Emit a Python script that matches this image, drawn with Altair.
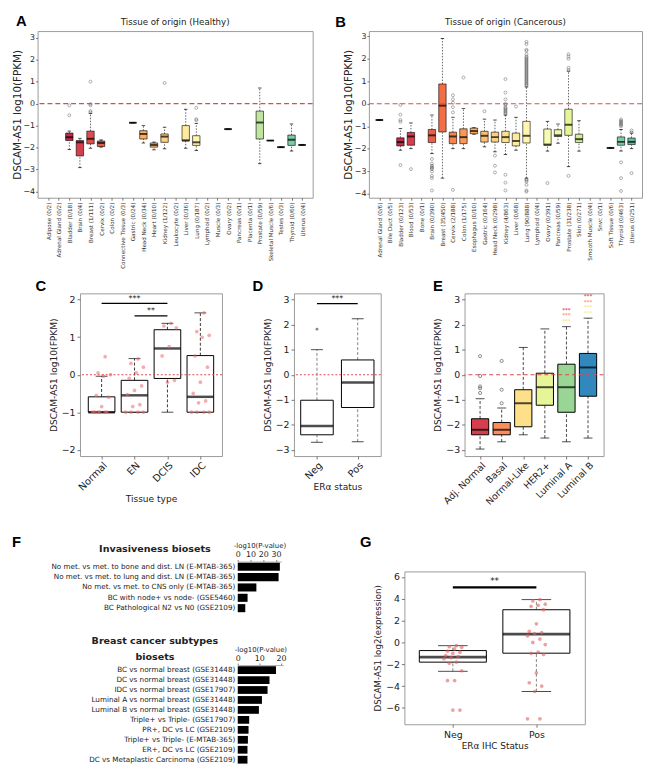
import altair as alt
import pandas as pd

FONT = "DejaVu Sans"
LETTER_FONT = "Liberation Sans"
N = None
ZERO = [0]

# ---------------- Panel A : healthy tissues ----------------
A_CATS = ["Adipose (0/2)", "Adrenal Gland (0/2)", "Bladder (0/18)", "Brain (0/4)",
          "Breast (1/111)", "Cervix (0/2)", "Colon (0/2)", "Connective Tissue (0/3)",
          "Gastric (0/24)", "Head Neck (0/34)", "Heart (0/10)", "Kidney (1/122)",
          "Leukocyte (0/2)", "Liver (0/36)", "Lung (0/187)", "Lymphoid (0/2)",
          "Muscle (0/3)", "Ovary (0/2)", "Pancreas (0/1)", "Placenta (0/1)",
          "Prostate (0/59)", "Skeletal Muscle (0/6)", "Testes (0/3)", "Thyroid (0/60)",
          "Uterus (0/4)"]
A_LO = [N, N, -2.09, -2.91, -2.03, -1.98, N, N, -0.87, -1.79, -2.10, -2.05, N,
        -2.03, -2.13, N, N, -1.16, N, N, -2.73, -1.68, -1.98, -2.16, -1.88]
A_Q1 = [N, N, -1.68, -2.38, -1.83, -1.95, N, N, -0.87, -1.61, -1.98, -1.76, N,
        -1.70, -1.90, N, N, -1.16, N, N, -1.61, -1.68, -1.98, -1.90, -1.88]
A_MED = [N, N, -1.53, -1.76, -1.60, -1.79, N, N, -0.87, -1.38, -1.88, -1.50, N,
         -1.67, -1.76, N, N, -1.16, N, N, -0.86, -1.68, -1.98, -1.64, -1.88]
A_Q3 = [N, N, -1.34, -1.68, -1.25, -1.70, N, N, -0.87, -1.23, -1.79, -1.38, N,
        -1.00, -1.46, N, N, -1.16, N, N, -0.34, -1.68, -1.98, -1.43, -1.88]
A_HI = [N, N, -1.25, -1.58, -0.45, -1.65, N, N, -0.87, -1.00, -1.75, -1.08, N,
        -0.26, -0.90, N, N, -1.16, N, N, 0.71, -1.68, -1.98, -0.93, -1.88]
A_OUT_CAT = (["Bladder (0/18)"] * 2 + ["Breast (1/111)"] * 5 + ["Kidney (1/122)"]
             + ["Lung (0/187)"] * 3)
A_OUT_VAL = [-0.08, -0.53, 1.0, -0.02, -0.08, -0.34, -0.40, 0.94, -0.19, -0.71, -0.76]

# ---------------- Panel B : cancerous tissues ----------------
B_CATS = ["Adrenal Gland (0/6)", "Bile Duct (0/5)", "Bladder (0/123)", "Blood (0/53)",
          "Bone (0/1)", "Brain (0/390)", "Breast (35/450)", "Cervix (2/188)",
          "Colon (1/175)", "Esophagus (0/10)", "Gastric (0/164)", "Head Neck (0/298)",
          "Kidney (4/863)", "Liver (0/68)", "Lung (90/888)", "Lymphoid (0/4)",
          "Ovary (0/391)", "Pancreas (0/59)", "Prostate (31/238)", "Skin (0/271)",
          "Smooth Muscle (0/4)", "Snvc (0/1)", "Soft Tissue (0/6)", "Thyroid (0/463)",
          "Uterus (0/251)"]
B_LO = [-0.72, N, -2.06, -1.99, N, -2.21, -3.30, -1.99, -1.99, -1.35, -1.91, -2.13,
        -2.25, -2.06, -3.30, N, -2.10, -1.75, -2.79, -2.10, N, N, -1.96, -2.10, -1.99]
B_Q1 = [-0.72, N, -1.87, -1.84, N, -1.72, -1.25, -1.77, -1.77, -1.33, -1.70, -1.70,
        -1.72, -1.87, -1.74, N, -1.84, -1.45, -1.40, -1.72, N, N, -1.96, -1.84, -1.81]
B_MED = [-0.72, N, -1.70, -1.45, N, -1.40, -0.08, -1.45, -1.48, -1.21, -1.42, -1.48,
         -1.48, -1.65, -1.42, N, -1.81, -1.40, -0.93, -1.57, N, N, -1.96, -1.69, -1.69]
B_Q3 = [-0.72, N, -1.51, -1.27, N, -1.14, 0.88, -1.26, -1.11, -1.08, -1.22, -1.26,
        -1.22, -1.30, -0.78, N, -1.12, -1.15, -0.24, -1.35, N, N, -1.96, -1.47, -1.52]
B_HI = [-0.72, N, -1.10, -0.85, N, -0.50, 2.90, -0.60, -0.21, -1.06, -0.68, -0.72,
        -0.50, -0.60, 0.75, N, -0.78, -0.90, 1.45, -0.75, N, N, -1.96, -1.14, -1.30]
B_OUT_CAT = (["Bladder (0/123)"] * 5 + ["Blood (0/53)"] + ["Brain (0/390)"] * 10
             + ["Cervix (2/188)"] * 6 + ["Colon (1/175)"] + ["Gastric (0/164)"]
             + ["Head Neck (0/298)"] * 3 + ["Kidney (4/863)"] * 15 + ["Liver (0/68)"]
             + ["Lung (90/888)"] * 38 + ["Ovary (0/391)"] + ["Prostate (31/238)"] * 6
             + ["Thyroid (0/463)"] * 10 + ["Uterus (0/251)"] * 3)
B_OUT_VAL = ([-0.05, -0.48, -0.72, -0.80, -2.72] + [-2.90]
             + [-2.45, -2.65, -2.75, -2.80, -2.85, -2.90, -3.00, -3.20, -3.30, -3.85]
             + [0.38, 0.20, 0.05, -0.15, -0.38, -3.82] + [1.17] + [-0.33]
             + [-2.30, -2.75, -3.05]
             + [1.10, 0.50, 0.20, 0.00, -0.05, -0.15, -0.20, -0.25, -0.30, -0.35, -0.40,
                -0.45, -3.15, -3.50, -3.85]
             + [-0.12]
             + [0.80, 0.85, 0.90, 0.95, 1.00, 1.05, 1.10, 1.15, 1.20, 1.25, 1.30, 1.35,
                1.40, 1.45, 1.50, 1.55, 1.60, 1.65, 1.70, 1.75, 1.80, 1.85, 1.90, 1.95,
                2.00, 2.05, 2.10, 2.20, 2.35, 2.40, 2.65, 2.75, -3.35, -3.40, -3.45,
                -3.60, -3.85, -3.90]
             + [-3.52]
             + [2.20, 2.10, 2.00, 1.60, 1.50, -3.20]
             + [-0.70, -0.75, -0.80, -0.85, -0.90, -0.95, -1.00, -2.60, -3.30, -3.87]
             + [-1.18, -1.27, -3.08])

# ---------------- Panel C ----------------
C_CATS = ["Normal", "EN", "DCIS", "IDC"]
C_LO = [-1.0, -1.0, -1.0, -1.0]
C_Q1 = [-1.0, -1.0, -0.10, -1.0]
C_MED = [-1.0, -0.55, 0.70, -0.59]
C_Q3 = [-0.59, -0.15, 1.20, 0.51]
C_HI = [-0.04, 0.43, 1.37, 1.65]
C_PT_CAT = ["Normal"] * 13 + ["EN"] * 14 + ["DCIS"] * 7 + ["IDC"] * 14
C_PT_VAL = ([0.48, 0.05, 0.0, -0.04, -0.55, -0.60, -0.85, -1.0, -1.0, -1.0, -1.0, -1.0, -1.0]
            + [0.42, 0.30, 0.20, 0.05, -0.10, -0.30, -0.42, -0.53, -0.80, -0.85, -1.0, -1.0, -1.0, -1.0]
            + [1.37, 1.30, 1.25, 0.75, 0.50, -0.15, -0.20]
            + [1.65, 1.15, 1.05, 1.00, 0.50, 0.20, -0.20, -0.50, -0.70, -0.75, -1.0, -1.0, -1.0, -1.0])
C_SIG_FROM = ["Normal", "EN"]
C_SIG_TO = ["DCIS", "DCIS"]
C_SIG_Y = [1.90, 1.57]
C_SIG_TXT = ["***", "**"]

# ---------------- Panel D ----------------
D_CATS = ["Neg", "Pos"]
D_LO = [-2.70, -2.68]
D_Q1 = [-2.40, -1.31]
D_MED = [-2.05, -0.31]
D_Q3 = [-1.02, 0.59]
D_HI = [1.00, 2.24]
D_OUT_CAT = ["Neg"]
D_OUT_VAL = [1.82]
D_SIG_FROM = ["Neg"]
D_SIG_TO = ["Pos"]
D_SIG_Y = [2.84]
D_SIG_TXT = ["***"]

# ---------------- Panel E ----------------
E_CATS = ["Adj. Normal", "Basal", "Normal-Like", "HER2+", "Luminal A", "Luminal B"]
E_COLORS = ["#d53e4f", "#fc8d59", "#fee08b", "#e6f598", "#99d594", "#3288bd"]
E_LO = [-2.97, -2.68, -2.40, -2.53, -2.68, -2.53]
E_Q1 = [-2.40, -2.40, -2.08, -1.22, -1.50, -0.86]
E_MED = [-2.20, -2.20, -1.14, -0.50, -0.50, 0.29]
E_Q3 = [-1.76, -1.91, -0.60, 0.06, 0.42, 0.85]
E_HI = [-0.96, -1.33, 1.09, 1.83, 1.92, 2.26]
E_OUT_CAT = ["Adj. Normal"] * 5 + ["Basal"] * 3
E_OUT_VAL = [0.74, -0.05, -0.47, -0.54, -0.73, 0.55, -0.60, -1.14]
E_STAR_CAT = ["Luminal A"] * 3 + ["Luminal B"] * 4
E_STAR_Y = [2.59, 2.37, 2.15, 3.15, 2.92, 2.70, 2.48]
E_STAR_VS = ["Adj. Normal", "Basal", "Normal-Like", "Adj. Normal", "Basal", "Normal-Like", "HER2+"]

# ---------------- Panel F ----------------
F1_LABELS = ["No met. vs met. to bone and dist. LN (E-MTAB-365)",
             "No met. vs met. to lung and dist. LN (E-MTAB-365)",
             "No met. vs met. to CNS only (E-MTAB-365)",
             "BC with node+ vs node- (GSE5460)",
             "BC Pathological N2 vs N0 (GSE2109)"]
F1_VALS = [33.0, 32.0, 14.6, 7.7, 5.9]
F2_LABELS = ["BC vs normal breast (GSE31448)",
             "DC vs normal breast (GSE31448)",
             "IDC vs normal breast (GSE17907)",
             "Luminal A  vs normal breast (GSE31448)",
             "Luminal B  vs normal breast  (GSE31448)",
             "Triple+ vs Triple- (GSE17907)",
             "PR+, DC vs LC (GSE2109)",
             "Triple+ vs Triple- (E-MTAB-365)",
             "ER+, DC vs LC (GSE2109)",
             "DC vs Metaplastic Carcinoma (GSE2109)"]
F2_VALS = [17.7, 14.7, 13.8, 11.2, 9.8, 5.3, 5.0, 4.7, 4.5, 4.5]
F1_HEADER = ["Invasiveness biosets"]
F2_HEADER = ["Breast cancer subtypes", "biosets"]

# ---------------- Panel G ----------------
G_CATS = ["Neg", "Pos"]
G_LO = [-2.65, -4.50]
G_Q1 = [-1.81, -0.99]
G_MED = [-1.36, 0.75]
G_Q3 = [-0.75, 2.99]
G_HI = [-0.30, 3.92]
G_PT_CAT = ["Neg"] * 18 + ["Pos"] * 23
G_PT_VAL = ([-0.30, -0.40, -0.45, -0.60, -0.80, -0.90, -1.00, -1.20, -1.30, -1.40, -1.50,
             -1.80, -1.90, -2.60, -3.50, -3.50, -6.20, -6.20]
            + [3.92, 3.80, 3.50, 3.40, 3.30, 3.00, 1.70, 1.00, 0.90, 0.80, 0.60, 0.30,
               0.00, -0.20, -0.90, -1.00, -1.10, -2.80, -3.70, -4.00, -4.50, -7.00, -7.00])
G_SIG_FROM = ["Neg"]
G_SIG_TO = ["Pos"]
G_SIG_Y = [5.04]
G_SIG_TXT = ["**"]

# ---------------- palette (Spectral, first 80 %) for tissues ----------------
SPECTRAL = ["#9e0142", "#d53e4f", "#f46d43", "#fdae61", "#fee08b", "#ffffbf",
            "#e6f598", "#abdda4", "#66c2a5", "#3288bd", "#5e4fa2"]


def spectral(t):
    pos = t * 10
    i = min(int(pos), 9)
    f = pos - i
    a = [int(SPECTRAL[i][k:k + 2], 16) for k in (1, 3, 5)]
    b = [int(SPECTRAL[i + 1][k:k + 2], 16) for k in (1, 3, 5)]
    return "#" + "".join(f"{round(a[k] + (b[k] - a[k]) * f):02x}" for k in range(3))


TISSUE_COLORS = [spectral(0.8 * i / 24) for i in range(25)]


# ================= helpers =================
def ind(c):
    return c.resolve_scale(fill="independent", color="independent")


def hc(*charts, spacing):
    return ind(alt.hconcat(*charts, spacing=spacing))


def vc(*charts, spacing):
    return ind(alt.vconcat(*charts, spacing=spacing))


def spacer(w, h):
    return (alt.Chart(pd.DataFrame({"s": [0]}))
            .mark_point(size=1, opacity=0)
            .encode(x=alt.value(0), y=alt.value(0))
            .properties(width=w, height=h,
                        view=alt.ViewBackground(stroke="transparent")))


def text_layer(txt, x, y, size, weight="normal", align="center", baseline="middle",
               font=FONT, color="#222"):
    return (alt.Chart(pd.DataFrame({"t": [txt]}))
            .mark_text(font=font, fontSize=size, fontWeight=weight, align=align,
                       baseline=baseline, color=color)
            .encode(text="t:N", x=alt.value(x), y=alt.value(y)))


def letter(txt, x, y):
    return text_layer(txt, x, y, 15, "bold", "left", "top", LETTER_FONT, "black")


def box_panel(cats, lo, q1, med, q3, hi, *, width, xpad, ydom, yvals, ytitle, xaxis,
              ysize, box_w, cap_w, med_t, fill=None, wdash=(3, 2), wcolor="#444",
              box_sw=1.0, ylabsize=9.5, tick=3, lpad=2, tpad=3):
    xs = alt.Scale(type="point", domain=cats, padding=xpad)
    ys = alt.Scale(domain=ydom, nice=False, zero=False)
    yaxis = alt.Axis(title=ytitle, values=yvals, labelFontSize=ylabsize,
                     titleFontSize=ysize, tickSize=tick, labelPadding=lpad,
                     titlePadding=tpad)

    def X(f="cat"):
        return alt.X(f"{f}:N", scale=xs, axis=xaxis, sort=None)

    def Y(f):
        return alt.Y(f"{f}:Q", scale=ys, axis=yaxis)

    df = pd.DataFrame(dict(cat=cats, lo=lo, q1=q1, med=med, q3=q3, hi=hi)).dropna()
    base = alt.Chart(df)
    rule = dict(strokeDash=list(wdash), color=wcolor, strokeWidth=0.9)
    layers = [
        base.mark_rule(**rule).encode(x=X(), y=Y("q3"), y2="hi:Q"),
        base.mark_rule(**rule).encode(x=X(), y=Y("lo"), y2="q1:Q"),
        base.mark_tick(size=cap_w, thickness=1, color="black").encode(x=X(), y=Y("hi")),
        base.mark_tick(size=cap_w, thickness=1, color="black").encode(x=X(), y=Y("lo")),
    ]
    if fill is None:
        layers.append(base.mark_bar(width=box_w, fill="white", stroke="black",
                                    strokeWidth=box_sw)
                      .encode(x=X(), y=Y("q1"), y2="q3:Q"))
    else:
        layers.append(base.mark_bar(width=box_w, stroke="black", strokeWidth=box_sw,
                                    opacity=1)
                      .encode(x=X(), y=Y("q1"), y2="q3:Q", fill=fill))
    layers.append(base.mark_tick(size=box_w, thickness=med_t, color="black")
                  .encode(x=X(), y=Y("med")))
    step = width / (len(cats) - 1 + 2 * xpad)
    return layers, X, Y, step


def zero_rule(Y, dash):
    return (alt.Chart(pd.DataFrame({"z": ZERO}))
            .mark_rule(color="#dd4b4b", strokeDash=dash, strokeWidth=1.1)
            .encode(y=Y("z")))


def sig_layers(X, Y, cats, step, frm, to, ys, txts, width=1.3, size=8):
    out = []
    df = pd.DataFrame(dict(frm=frm, to=to, y=ys, txt=txts))
    out.append(alt.Chart(df).mark_rule(color="black", strokeWidth=width)
               .encode(x=X("frm"), x2=alt.X2("to:N"), y=Y("y")))
    for i in range(len(frm)):
        dx = (cats.index(to[i]) - cats.index(frm[i])) / 2 * step
        out.append(alt.Chart(df.iloc[[i]]).mark_text(dx=dx, dy=-1, baseline="bottom",
                                                     fontSize=size, color="#222")
                   .encode(x=X("frm"), y=Y("y"), text="txt:N"))
    return out


def jitter_points(X, Y, cat, val, spread_px, color, size=14, opacity=0.55):
    df = pd.DataFrame(dict(cat=cat, v=val))
    return (alt.Chart(df)
            .transform_window(rn="row_number()", groupby=["cat"])
            .transform_calculate(jit="(datum.rn * 7) % 11 - 5")
            .mark_circle(size=size, color=color, opacity=opacity)
            .encode(x=X(), y=Y("v"),
                    xOffset=alt.XOffset("jit:Q", scale=alt.Scale(
                        domain=[-5, 5], range=[-spread_px, spread_px]))))


# ================= panels =================
def tissue_panel(cats, lo, q1, med, q3, hi, out_cat, out_val, title, let, width, height,
                 ydom, let_x, let_y):
    xaxis = alt.Axis(title=None, labelAngle=-90, labelFontSize=5.7, labelColor="#333",
                     tickSize=2.5, labelPadding=2, labelLimit=300)
    fill = alt.Fill("cat:N", legend=None,
                    scale=alt.Scale(domain=cats, range=TISSUE_COLORS))
    layers, X, Y, step = box_panel(cats, lo, q1, med, q3, hi, width=width, xpad=1.58,
                                   ydom=ydom, yvals=list(range(-4, 4)),
                                   ytitle="DSCAM-AS1 log10(FPKM)", xaxis=xaxis, ysize=10.5,
                                   box_w=7.5, cap_w=3.5, med_t=2, fill=fill,
                                   wdash=(1.5, 1.5), wcolor="#555", box_sw=0.6, ylabsize=8,
                                   tick=2, lpad=1, tpad=1)
    od = pd.DataFrame(dict(cat=out_cat, v=out_val))
    layers.append(alt.Chart(od).mark_point(shape="circle", filled=False, size=9,
                                           strokeWidth=0.6, color="#444")
                  .encode(x=X(), y=Y("v")))
    layers.append(zero_rule(Y, [5, 3]))
    layers.append(text_layer(title, width / 2, -9, 8.8))
    layers.append(letter(let, let_x, let_y))
    return alt.layer(*layers).properties(width=width, height=height)


PH = 169
A = tissue_panel(A_CATS, A_LO, A_Q1, A_MED, A_Q3, A_HI, A_OUT_CAT, A_OUT_VAL,
                 "Tissue of origin (Healthy)", "A", 279, PH, [-4.28, 3.3], -22, -17)
B = tissue_panel(B_CATS, B_LO, B_Q1, B_MED, B_Q3, B_HI, B_OUT_CAT, B_OUT_VAL,
                 "Tissue of origin (Cancerous)", "B", 277, PH, [-4.17, 3.23], -34, -16)

# ---- C ----
CW, CH = 144, 165
c_xaxis = alt.Axis(title="Tissue type", labelAngle=-45, labelAlign="right",
                   labelBaseline="top", labelFontSize=10, titleFontSize=9.2, tickSize=3,
                   labelPadding=1, titlePadding=2)
c_layers, cX, cY, c_step = box_panel(C_CATS, C_LO, C_Q1, C_MED, C_Q3, C_HI, width=CW,
                                     xpad=0.657, ydom=[-2.17, 2.17], yvals=[-2, -1, 0, 1, 2],
                                     ytitle="DSCAM-AS1 log10(FPKM)", xaxis=c_xaxis, ysize=9.2,
                                     box_w=27, cap_w=12, med_t=2.5, wdash=(3, 2), wcolor="#222")
c_layers.append(jitter_points(cX, cY, C_PT_CAT, C_PT_VAL, 9, "#e8696b"))
c_layers.append(zero_rule(cY, [2, 2]))
c_layers += sig_layers(cX, cY, C_CATS, c_step, C_SIG_FROM, C_SIG_TO, C_SIG_Y, C_SIG_TXT)
c_layers.append(letter("C", -45, -14))
C = alt.layer(*c_layers).properties(width=CW, height=CH)

# ---- D ----
DW = 88
d_xaxis = alt.Axis(title="ERα status", labelAngle=-45, labelAlign="right",
                   labelBaseline="top", labelFontSize=10, titleFontSize=9.2, tickSize=3,
                   labelPadding=1, titlePadding=2)
d_layers, dX, dY, d_step = box_panel(D_CATS, D_LO, D_Q1, D_MED, D_Q3, D_HI, width=DW,
                                     xpad=0.565, ydom=[-3.25, 3.25],
                                     yvals=[-3, -2, -1, 0, 1, 2, 3],
                                     ytitle="DSCAM-AS1 log10(FPKM)", xaxis=d_xaxis, ysize=9.2,
                                     box_w=33, cap_w=12, med_t=2.5, wdash=(3, 2), wcolor="#777")
d_layers.append(alt.Chart(pd.DataFrame(dict(cat=D_OUT_CAT, v=D_OUT_VAL)))
                .mark_circle(size=8, color="#555").encode(x=dX(), y=dY("v")))
d_layers.append(zero_rule(dY, [2, 2]))
d_layers += sig_layers(dX, dY, D_CATS, d_step, D_SIG_FROM, D_SIG_TO, D_SIG_Y, D_SIG_TXT)
d_layers.append(letter("D", -42, -14))
D = alt.layer(*d_layers).properties(width=DW, height=CH)

# ---- E ----
EW = 141
e_xaxis = alt.Axis(title=None, labelAngle=-45, labelAlign="right", labelBaseline="top",
                   labelFontSize=9.5, tickSize=3, labelPadding=1)
e_fill = alt.Fill("cat:N", legend=None, scale=alt.Scale(domain=E_CATS, range=E_COLORS))
e_layers, eX, eY, e_step = box_panel(E_CATS, E_LO, E_Q1, E_MED, E_Q3, E_HI, width=EW,
                                     xpad=0.72, ydom=[-3.25, 3.25],
                                     yvals=[-3, -2, -1, 0, 1, 2, 3],
                                     ytitle="DSCAM-AS1 log10(FPKM)", xaxis=e_xaxis, ysize=9.2,
                                     box_w=17.5, cap_w=9, med_t=2, fill=e_fill,
                                     wdash=(3, 2), wcolor="#333")
e_layers.append(alt.Chart(pd.DataFrame(dict(cat=E_OUT_CAT, v=E_OUT_VAL)))
                .mark_point(shape="circle", filled=False, size=10, strokeWidth=0.8,
                            color="#333").encode(x=eX(), y=eY("v")))
e_layers.append(zero_rule(eY, [4, 3]))
e_layers.append(alt.Chart(pd.DataFrame(dict(cat=E_STAR_CAT, v=E_STAR_Y, vs=E_STAR_VS)))
                .mark_text(fontSize=5.5, fontWeight="bold", baseline="middle")
                .encode(x=eX(), y=eY("v"), text=alt.value("***"),
                        color=alt.Color("vs:N", legend=None,
                                        scale=alt.Scale(domain=E_CATS, range=E_COLORS))))
e_layers.append(letter("E", -32, -14))
E = alt.layer(*e_layers).properties(width=EW, height=CH)


# ---- F ----
def fbar(labels, vals, xmax, ticks, width, step, headers, header_ys, let=None):
    df = pd.DataFrame(dict(label=labels, v=vals))
    bars = alt.Chart(df).mark_bar(color="black").encode(
        y=alt.Y("label:N", sort=None,
                scale=alt.Scale(domain=labels, paddingInner=0.22, paddingOuter=0.11),
                axis=alt.Axis(title=None, labelFontSize=7.3, ticks=False, domain=False,
                              labelPadding=3, labelLimit=400)),
        x=alt.X("v:Q", scale=alt.Scale(domain=[0, xmax], nice=False),
                axis=alt.Axis(orient="top", values=ticks, title="-log10(P-value)",
                              titleFontSize=7, labelFontSize=8, tickSize=2,
                              labelPadding=1, titlePadding=2, domain=True,
                              domainColor="#aaa", labelFlush=False)))
    layers = [bars]
    for h, hy in zip(headers, header_ys):
        layers.append(text_layer(h, -84, hy, 9.7, "bold"))
    if let:
        layers.append(letter(let, -229, -27))
    return alt.layer(*layers).properties(width=width, height=step * len(labels),
                                         view=alt.ViewBackground(stroke="transparent"))


F1 = fbar(F1_LABELS, F1_VALS, 34, [0, 10, 20, 30], 44, 10.5, F1_HEADER, [-13], "F")
F2 = fbar(F2_LABELS, F2_VALS, 21, [0, 10, 20], 46, 10.1, F2_HEADER, [-24, -8])

# ---- G ----
GW, GH = 183, 155
g_xaxis = alt.Axis(title="ERα IHC Status", labelAngle=0, labelFontSize=9.5,
                   titleFontSize=9, tickSize=3, labelPadding=2, titlePadding=3)
g_layers, gX, gY, g_step = box_panel(G_CATS, G_LO, G_Q1, G_MED, G_Q3, G_HI, width=GW,
                                     xpad=0.58, ydom=[-7.5, 6.5],
                                     yvals=[-6, -4, -2, 0, 2, 4, 6],
                                     ytitle="DSCAM-AS1 log2(expression)", xaxis=g_xaxis,
                                     ysize=8.8, box_w=68, cap_w=30, med_t=2.8,
                                     wdash=(3, 2), wcolor="#777")
g_layers.append(jitter_points(gX, gY, G_PT_CAT, G_PT_VAL, 22, "#e06060", size=14,
                              opacity=0.6))
g_layers += sig_layers(gX, gY, G_CATS, g_step, G_SIG_FROM, G_SIG_TO, G_SIG_Y, G_SIG_TXT,
                       width=2.5, size=9)
g_layers.append(letter("G", -45, -37))
G = alt.layer(*g_layers).properties(width=GW, height=GH)

# ================= layout =================
row1 = hc(spacer(1, 1), hc(A, B, spacing=20), spacing=0)
row2 = hc(spacer(25, 1), hc(hc(C, D, spacing=28), E, spacing=50), spacing=0)
Fg = vc(spacer(1, 1), F1, F2, spacing=22)
Gg = vc(spacer(1, 1), G, spacing=22)
row3 = hc(spacer(1, 1), hc(Fg, Gg, spacing=72), spacing=0)

chart = (vc(vc(row1, row2, spacing=9), row3, spacing=2)
         .properties(padding={"left": 0, "top": 0, "right": 0, "bottom": 0},
                     background="white")
         .configure(font=FONT)
         .configure_view(stroke="#9a9a9a", strokeWidth=1)
         .configure_axis(grid=False, domain=False, tickColor="#555", tickWidth=0.8,
                         labelColor="#222", titleColor="#222", titleFontWeight="normal"))

chart.save("out.html", embed_options={"renderer": "svg", "actions": False})
